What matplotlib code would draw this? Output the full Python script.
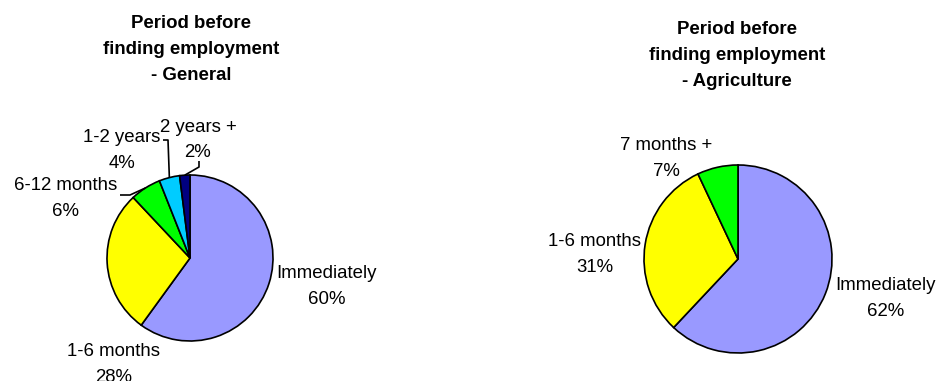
import numpy as np
import matplotlib
matplotlib.use("Agg")
import matplotlib.pyplot as plt

plt.rcParams['font.family'] = ['Liberation Sans', 'DejaVu Sans']

# Data
general_categories = ['Immediately', '1-6 months', '6-12 months', '1-2 years', '2 years +']
general_values = [60, 28, 6, 4, 2]
agri_categories = ['Immediately', '1-6 months', '7 months +']
agri_values = [62, 31, 7]
general_title = ['Period before', 'finding employment', '- General']
agri_title = ['Period before', 'finding employment', '- Agriculture']

# Styling
general_colors = ['#9999FF', '#FFFF00', '#00FF00', '#00CCFF', '#000080']
agri_colors = ['#9999FF', '#FFFF00', '#00FF00']

W, H = 937, 381
fig = plt.figure(figsize=(W / 100, H / 100), dpi=100)
ax = fig.add_axes([0, 0, 1, 1])


def py(y):
    # top-down pixel row to data y
    return H - y


FS = 13.4

# pie layout (pixel centers / radii)
g_center, g_r = (190, 258), 83
a_center, a_r = (738, 259), 94

wp = dict(edgecolor='black', linewidth=1.2)
ax.pie(general_values, colors=general_colors, startangle=90, counterclock=False,
       center=(g_center[0], py(g_center[1])), radius=g_r, wedgeprops=wp, frame=True)
ax.pie(agri_values, colors=agri_colors, startangle=90, counterclock=False,
       center=(a_center[0], py(a_center[1])), radius=a_r, wedgeprops=wp, frame=True)

ax.set_xlim(0, W)
ax.set_ylim(0, H)
ax.set_aspect('equal')
ax.axis('off')


def lines(x, ys, texts, **kw):
    for y, t in zip(ys, texts):
        ax.text(x, py(y), t, ha='center', va='center_baseline', fontsize=FS, **kw)


# titles
lines(191, [22, 48, 73], general_title, fontweight='bold')
lines(737, [28, 54, 80], agri_title, fontweight='bold')

# data labels: (center x, first line y, second line y)
g_label_pos = [(327, 272, 298), (114, 350, 376), (66, 184, 210),
               (122, 136, 162), (198, 125, 151)]
a_label_pos = [(886, 283, 309), (595, 240, 266), (666, 144, 170)]

for cat, val, (x, y1, y2) in zip(general_categories, general_values, g_label_pos):
    lines(x, [y1, y2], [cat, f'{val}%'])
for cat, val, (x, y1, y2) in zip(agri_categories, agri_values, a_label_pos):
    lines(x, [y1, y2], [cat, f'{val}%'])


def edge_point(values, idx, center, r):
    total = float(sum(values))
    start = sum(values[:idx]) / total
    mid = start + values[idx] / total / 2
    ang = np.deg2rad(90 - 360 * mid)
    return center[0] + r * np.cos(ang), py(center[1]) + r * np.sin(ang)


# leader lines for the thin slices: elbow points in pixel coords
leaders = {
    2: [(120, 195), (130, 195)],
    3: [(163, 140), (168, 140)],
    4: [(199, 161), (199, 167)],
}
for idx, pts in leaders.items():
    ex, ey = edge_point(general_values, idx, g_center, g_r)
    xs = [p[0] for p in pts] + [ex]
    ys = [py(p[1]) for p in pts] + [ey]
    ax.plot(xs, ys, color='black', linewidth=1.2, solid_capstyle='butt')

fig.savefig('out.png', dpi=100)
